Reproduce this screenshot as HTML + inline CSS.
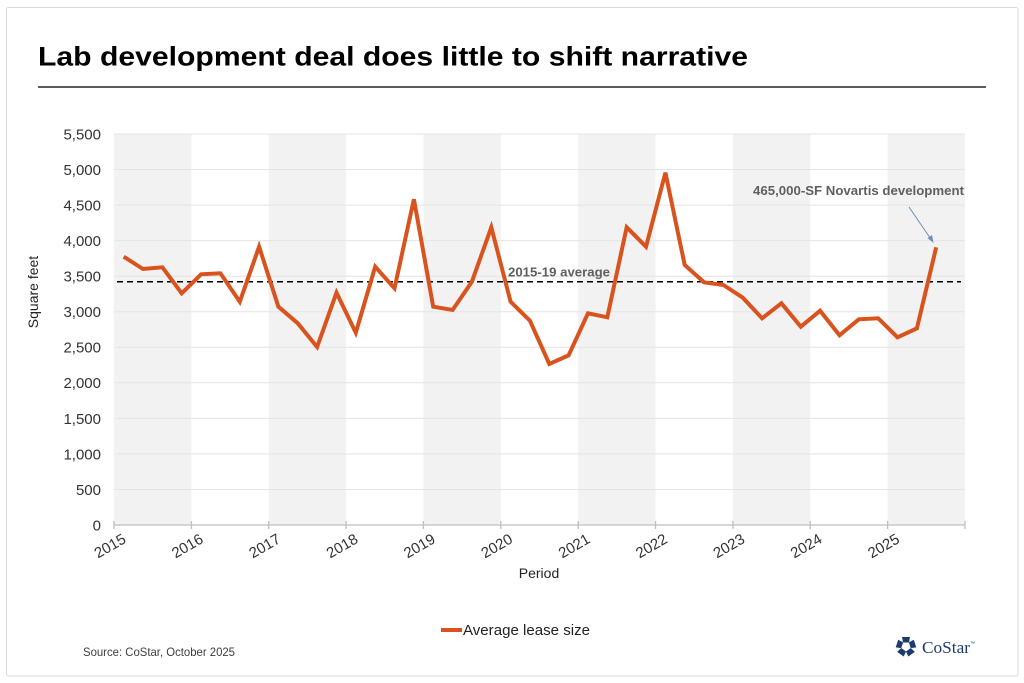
<!DOCTYPE html>
<html>
<head>
<meta charset="utf-8">
<style>
  html, body { margin:0; padding:0; background:#ffffff; }
  body { width:1024px; height:683px; overflow:hidden; }
  svg { display:block; }
  text { font-family: "Liberation Sans", Arial, sans-serif; }
</style>
</head>
<body>
<svg width="1024" height="683" viewBox="0 0 1024 683" xmlns="http://www.w3.org/2000/svg">
  <rect x="0" y="0" width="1024" height="683" fill="#ffffff"/>
  <!-- outer border -->
  <rect x="6.5" y="7.5" width="1011.5" height="668.5" rx="2" fill="none" stroke="#d9d9d9" stroke-width="1"/>

  <!-- title -->
  <text x="38" y="65.5" font-size="27" font-weight="bold" fill="#000" textLength="710" lengthAdjust="spacingAndGlyphs">Lab development deal does little to shift narrative</text>
  <line x1="38" y1="87" x2="986" y2="87" stroke="#262626" stroke-width="1.5"/>

  <!-- shaded bands (odd years) -->
  <g fill="#f2f2f2">
    <rect x="114" y="134" width="77.4" height="391"/>
    <rect x="268.7" y="134" width="77.4" height="391"/>
    <rect x="423.4" y="134" width="77.4" height="391"/>
    <rect x="578.2" y="134" width="77.4" height="391"/>
    <rect x="732.9" y="134" width="77.4" height="391"/>
    <rect x="887.6" y="134" width="77.4" height="391"/>
  </g>

  <!-- gridlines -->
  <g stroke="#e4e4e4" stroke-width="1">
    <line x1="114" y1="134" x2="965" y2="134"/>
    <line x1="114" y1="169.5" x2="965" y2="169.5"/>
    <line x1="114" y1="205.1" x2="965" y2="205.1"/>
    <line x1="114" y1="240.6" x2="965" y2="240.6"/>
    <line x1="114" y1="276.2" x2="965" y2="276.2"/>
    <line x1="114" y1="311.7" x2="965" y2="311.7"/>
    <line x1="114" y1="347.3" x2="965" y2="347.3"/>
    <line x1="114" y1="382.8" x2="965" y2="382.8"/>
    <line x1="114" y1="418.4" x2="965" y2="418.4"/>
    <line x1="114" y1="453.9" x2="965" y2="453.9"/>
    <line x1="114" y1="489.5" x2="965" y2="489.5"/>
  </g>

  <!-- x axis -->
  <g stroke="#bfbfbf" stroke-width="1.3">
    <line x1="114" y1="525" x2="965" y2="525"/>
    <line x1="114" y1="521" x2="114" y2="529"/>
    <line x1="191.4" y1="521" x2="191.4" y2="529"/>
    <line x1="268.7" y1="521" x2="268.7" y2="529"/>
    <line x1="346.1" y1="521" x2="346.1" y2="529"/>
    <line x1="423.4" y1="521" x2="423.4" y2="529"/>
    <line x1="500.8" y1="521" x2="500.8" y2="529"/>
    <line x1="578.2" y1="521" x2="578.2" y2="529"/>
    <line x1="655.5" y1="521" x2="655.5" y2="529"/>
    <line x1="732.9" y1="521" x2="732.9" y2="529"/>
    <line x1="810.2" y1="521" x2="810.2" y2="529"/>
    <line x1="887.6" y1="521" x2="887.6" y2="529"/>
    <line x1="965" y1="521" x2="965" y2="529"/>
  </g>

  <!-- y tick labels -->
  <g font-size="15" fill="#333" text-anchor="end">
    <text x="101" y="139.4">5,500</text>
    <text x="101" y="174.9">5,000</text>
    <text x="101" y="210.5">4,500</text>
    <text x="101" y="246">4,000</text>
    <text x="101" y="281.6">3,500</text>
    <text x="101" y="317.1">3,000</text>
    <text x="101" y="352.7">2,500</text>
    <text x="101" y="388.2">2,000</text>
    <text x="101" y="423.8">1,500</text>
    <text x="101" y="459.3">1,000</text>
    <text x="101" y="494.9">500</text>
    <text x="101" y="530.4">0</text>
  </g>

  <!-- x tick labels -->
  <g font-size="15" fill="#333" text-anchor="middle">
    <text x="110" y="551" transform="rotate(-30 110 546)">2015</text>
    <text x="187.4" y="551" transform="rotate(-30 187.4 546)">2016</text>
    <text x="264.7" y="551" transform="rotate(-30 264.7 546)">2017</text>
    <text x="342.1" y="551" transform="rotate(-30 342.1 546)">2018</text>
    <text x="419.4" y="551" transform="rotate(-30 419.4 546)">2019</text>
    <text x="496.8" y="551" transform="rotate(-30 496.8 546)">2020</text>
    <text x="574.2" y="551" transform="rotate(-30 574.2 546)">2021</text>
    <text x="651.5" y="551" transform="rotate(-30 651.5 546)">2022</text>
    <text x="728.9" y="551" transform="rotate(-30 728.9 546)">2023</text>
    <text x="806.2" y="551" transform="rotate(-30 806.2 546)">2024</text>
    <text x="883.6" y="551" transform="rotate(-30 883.6 546)">2025</text>
  </g>

  <!-- axis titles -->
  <text x="539" y="578" font-size="14" fill="#222" text-anchor="middle">Period</text>
  <text x="0" y="0" font-size="14" fill="#222" text-anchor="middle" transform="translate(38 292) rotate(-90)">Square feet</text>

  <!-- average dashed line -->
  <line x1="117" y1="281.7" x2="961" y2="281.7" stroke="#000" stroke-width="1.5" stroke-dasharray="6 4"/>
  <text x="508" y="276.5" font-size="12.5" font-weight="bold" fill="#5f5f5f" textLength="102" lengthAdjust="spacingAndGlyphs">2015-19 average</text>

  <!-- data line -->
  <polyline fill="none" stroke="#d9531e" stroke-width="4" stroke-linejoin="miter" stroke-miterlimit="4" stroke-linecap="butt"
    points="123.7,256.7 143.0,269 162.4,267.3 181.7,293.3 201.1,274.3 220.4,273.3 239.8,301.7 259.1,246.7 278.4,306.7 297.8,323.3 317.1,347 336.5,292.7 355.8,332.7 375.2,266.7 394.5,288.3 413.9,199.3 433.2,306.7 452.6,310 471.9,281.7 491.3,227.3 510.6,301.7 529.9,320.7 549.3,364 568.6,355.3 588.0,313.3 607.3,317.3 626.7,227.3 646.0,246.7 665.4,172.7 684.7,265 704.1,282.3 723.4,285 742.8,297.7 762.1,318.3 781.4,303.3 800.8,326.7 820.1,310.7 839.5,335.3 858.8,319.3 878.2,318.3 897.5,337.3 916.9,328.3 936.2,247.3"/>

  <!-- annotation -->
  <text x="753" y="195" font-size="12.5" font-weight="bold" fill="#5f5f5f" textLength="211" lengthAdjust="spacingAndGlyphs">465,000-SF Novartis development</text>
  <line x1="909" y1="207" x2="931.5" y2="240" stroke="#6d8fb5" stroke-width="1"/>
  <polygon points="933.5,243 927.5,238 932,235" fill="#6d8fb5"/>

  <!-- legend -->
  <line x1="441" y1="630" x2="462" y2="630" stroke="#d9531e" stroke-width="4"/>
  <text x="463" y="635.2" font-size="14.5" fill="#222" textLength="127" lengthAdjust="spacingAndGlyphs">Average lease size</text>

  <!-- source -->
  <text x="83" y="656" font-size="12" fill="#404040" textLength="152" lengthAdjust="spacingAndGlyphs">Source: CoStar, October 2025</text>

  <!-- CoStar logo -->
  <g fill="#1d3b6e" transform="translate(906 646.5)">
    <polygon points="-4,-9.5 4,-9.5 3,-4 -3,-4" transform="rotate(0)"/>
    <polygon points="-4,-9.5 4,-9.5 3,-4 -3,-4" transform="rotate(72)"/>
    <polygon points="-4,-9.5 4,-9.5 3,-4 -3,-4" transform="rotate(144)"/>
    <polygon points="-4,-9.5 4,-9.5 3,-4 -3,-4" transform="rotate(216)"/>
    <polygon points="-4,-9.5 4,-9.5 3,-4 -3,-4" transform="rotate(288)"/>
  </g>
  <text x="922" y="653" style="font-family:'Liberation Serif', 'DejaVu Serif', serif;" font-size="17" fill="#1d3b6e" textLength="48" lengthAdjust="spacingAndGlyphs">CoStar</text>
  <text x="970" y="645" font-size="5" fill="#1d3b6e">™</text>
</svg>
</body>
</html>
